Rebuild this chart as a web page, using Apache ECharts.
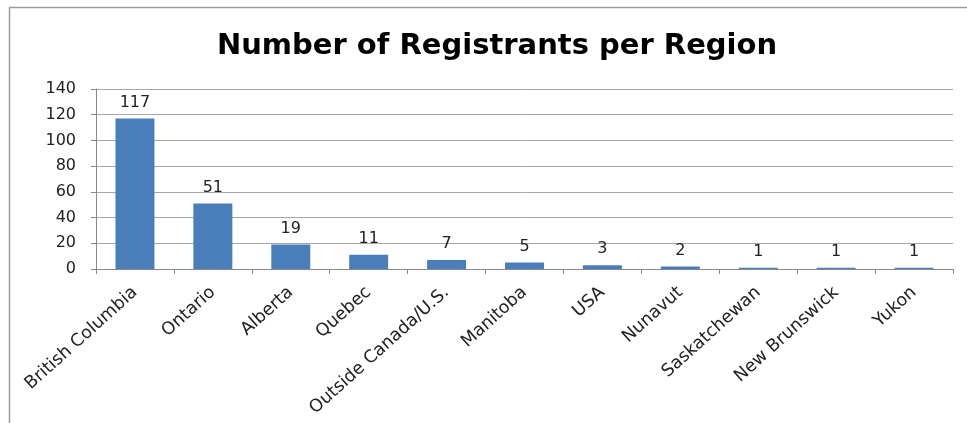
<!DOCTYPE html>
<html>
<head>
<meta charset="utf-8">
<script src="https://cdn.jsdelivr.net/npm/echarts@6/dist/echarts.min.js"></script>
<style>
  html, body { margin: 0; padding: 0; background: #fff; }
  #chart { width: 967px; height: 423px; }
</style>
</head>
<body>
<div id="chart"></div>
<script>
// Registrants by region
const regions = ['British Columbia', 'Ontario', 'Alberta', 'Quebec', 'Outside Canada/U.S.', 'Manitoba', 'USA', 'Nunavut', 'Saskatchewan', 'New Brunswick', 'Yukon'];
const registrants = [117, 51, 19, 11, 7, 5, 3, 2, 1, 1, 1];
const yTicks = { min: 0, max: 140, interval: 20 };

const font = '"DejaVu Sans", "Noto Sans", sans-serif';
const chart = echarts.init(document.getElementById('chart'));
chart.setOption({
  animation: false,
  backgroundColor: '#fff',
  title: {
    text: 'Number of Registrants per Region',
    left: 492,
    textAlign: 'center',
    top: 27,
    textStyle: { fontFamily: font, fontSize: 29, fontWeight: 'bold', color: '#000' }
  },
  graphic: [{
    type: 'rect',
    shape: { x: 9.5, y: 7.5, width: 980, height: 440 },
    style: { fill: 'none', stroke: '#9a9a9a', lineWidth: 1.5 },
    silent: true
  }],
  grid: { left: 96, right: 14, top: 89, bottom: 154, containLabel: false },
  xAxis: {
    type: 'category',
    data: regions,
    axisLine: { lineStyle: { color: '#888', width: 1 } },
    axisTick: { show: true, length: 5, alignWithLabel: false, lineStyle: { color: '#888' } },
    axisLabel: {
      rotate: 42, margin: 21, interval: 0,
      fontFamily: font, fontSize: 17.5, color: '#222'
    }
  },
  yAxis: {
    type: 'value',
    min: yTicks.min, max: yTicks.max, interval: yTicks.interval,
    axisLine: { show: true, lineStyle: { color: '#888' } },
    axisTick: { show: true, length: 5, inside: false, lineStyle: { color: '#888' } },
    axisLabel: { fontFamily: font, fontSize: 16, color: '#222', margin: 20 },
    splitLine: { lineStyle: { color: '#a6a6a6', width: 1 } }
  },
  series: [{
    type: 'bar',
    data: registrants,
    barWidth: '50%',
    itemStyle: { color: '#4a7ebb' },
    label: {
      show: true, position: 'top', distance: 8,
      fontFamily: font, fontSize: 16, color: '#222'
    }
  }]
});
</script>
</body>
</html>
